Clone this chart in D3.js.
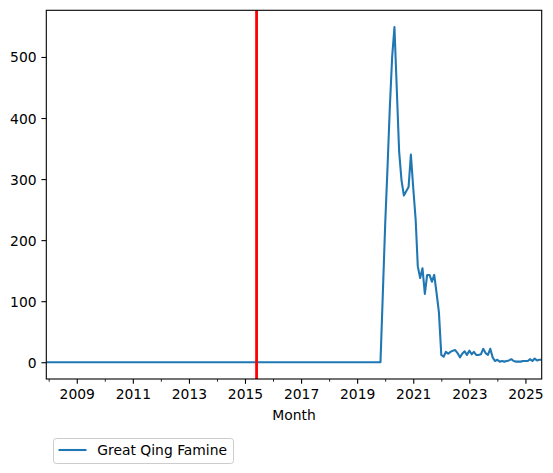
<!DOCTYPE html>
<html>
<head>
<meta charset="utf-8">
<script src="https://cdn.jsdelivr.net/npm/d3@7"></script>
<style>
  html, body { margin: 0; padding: 0; background: #fff; }
  svg { display: block; font-family: "DejaVu Sans", sans-serif; }
</style>
</head>
<body>
<svg id="chart" width="553" height="473"></svg>
<script>
// ---- data ----
const seriesName = "Great Qing Famine";
const startMonth = "2007-12";          // first month of the series
const eventMonth = "2015-06";          // red vertical marker
const xLabel = "Month";
// monthly values, 2007-12 .. 2025-08
const values = [
  0,                                     // 2007-12
  0,0,0,0,0,0,0,0,0,0,0,0,               // 2008
  0,0,0,0,0,0,0,0,0,0,0,0,               // 2009
  0,0,0,0,0,0,0,0,0,0,0,0,               // 2010
  0,0,0,0,0,0,0,0,0,0,0,0,               // 2011
  0,0,0,0,0,0,0,0,0,0,0,0,               // 2012
  0,0,0,0,0,0,0,0,0,0,0,0,               // 2013
  0,0,0,0,0,0,0,0,0,0,0,0,               // 2014
  0,0,0,0,0,0,0,0,0,0,0,0,               // 2015
  0,0,0,0,0,0,0,0,0,0,0,0,               // 2016
  0,0,0,0,0,0,0,0,0,0,0,0,               // 2017
  0,0,0,0,0,0,0,0,0,0,0,0,               // 2018
  0,0,0,0,0,0,0,0,0,0,0,110,             // 2019
  225,320,415,500,549,445,345,298,273,280,287,340,   // 2020
  285,234,157,138,154,112,143,143,132,143,113,82,    // 2021
  12,9,17,14,17,19,20,15,8,14,18,12,                 // 2022
  19,13,17,12,12,13,22,15,12,22,8,2,                 // 2023
  4,1,2,1,2,3,5,2,1,1,1,2,                           // 2024
  2,2,5,2,6,3,4,4                                    // 2025
];
const yTicks = [0, 100, 200, 300, 400, 500];
const xMajorYears = [2009, 2011, 2013, 2015, 2017, 2019, 2021, 2023, 2025];
const xMinorYears = [2008, 2010, 2012, 2014, 2016, 2018, 2020, 2022, 2024];

// ---- layout ----
const L = 46.3, R = 541.7, T = 10.3, B = 379;
const FS = 13.89;
const tickLen = 4.86, tickPad = 4.86;

const parseM = d3.utcParse("%Y-%m");
const t0 = parseM(startMonth);
const data = values.map((v, i) => ({ date: d3.utcMonth.offset(t0, i), value: v }));

const x = d3.scaleUtc()
  .domain([data[0].date, data[data.length - 1].date])
  .range([L, R]);
const maxV = d3.max(values), minV = d3.min(values);
const pad = (maxV - minV) * 0.05;
const y = d3.scaleLinear().domain([minV - pad, maxV + pad]).range([B, T]);

const svg = d3.select("#chart");
svg.append("rect").attr("width", 553).attr("height", 473).attr("fill", "#fff");

svg.append("defs").append("clipPath").attr("id", "clip")
  .append("rect").attr("x", L).attr("y", T).attr("width", R - L).attr("height", B - T);

// series line
const line = d3.line().x(d => x(d.date)).y(d => y(d.value));
svg.append("path")
  .datum(data)
  .attr("clip-path", "url(#clip)")
  .attr("fill", "none")
  .attr("stroke", "#1f77b4")
  .attr("stroke-width", 2.08)
  .attr("stroke-linejoin", "round")
  .attr("d", line);

// red vertical marker
const ex = x(parseM(eventMonth));
svg.append("line")
  .attr("x1", ex).attr("x2", ex).attr("y1", T).attr("y2", B)
  .attr("stroke", "#ff0000").attr("stroke-width", 2.78);

// y axis
const yAxis = d3.axisLeft(y).tickValues(yTicks).tickSize(tickLen).tickPadding(tickPad).tickFormat(d3.format("d"));
const gy = svg.append("g").attr("transform", `translate(${L},0)`).call(yAxis);
gy.select(".domain").remove();
gy.selectAll(".tick line").attr("stroke", "#000").attr("stroke-width", 1.1);
gy.selectAll(".tick text").attr("font-size", FS).attr("font-family", "DejaVu Sans").attr("fill", "#000").attr("dy", "0.36em");

// x axis major
const xAxis = d3.axisBottom(x)
  .tickValues(xMajorYears.map(yr => Date.UTC(yr, 0, 1)).map(t => new Date(t)))
  .tickSize(tickLen).tickPadding(tickPad)
  .tickFormat(d3.utcFormat("%Y"));
const gx = svg.append("g").attr("transform", `translate(0,${B})`).call(xAxis);
gx.select(".domain").remove();
gx.selectAll(".tick line").attr("stroke", "#000").attr("stroke-width", 1.1);
gx.selectAll(".tick text").attr("font-size", FS).attr("font-family", "DejaVu Sans").attr("fill", "#000")
  .attr("y", tickLen + tickPad).attr("dy", "0.76em");

// x axis minor
const xMinor = d3.axisBottom(x)
  .tickValues(xMinorYears.map(yr => new Date(Date.UTC(yr, 0, 1))))
  .tickSize(2.78).tickFormat("");
const gxm = svg.append("g").attr("transform", `translate(0,${B})`).call(xMinor);
gxm.select(".domain").remove();
gxm.selectAll(".tick line").attr("stroke", "#000").attr("stroke-width", 0.83);

// frame
svg.append("rect")
  .attr("x", L).attr("y", T).attr("width", R - L).attr("height", B - T)
  .attr("fill", "none").attr("stroke", "#000").attr("stroke-width", 1.1);

// x label
svg.append("text")
  .attr("x", (L + R) / 2).attr("y", 420)
  .attr("text-anchor", "middle")
  .attr("font-size", FS).attr("fill", "#000")
  .text(xLabel);

// legend
const lg = svg.append("g");
lg.append("rect")
  .attr("x", 53.5).attr("y", 438.5).attr("width", 180).attr("height", 25)
  .attr("rx", 2.8).attr("ry", 2.8)
  .attr("fill", "#fff").attr("fill-opacity", 0.8)
  .attr("stroke", "#cccccc").attr("stroke-width", 1);
lg.append("line")
  .attr("x1", 58.5).attr("x2", 86.5).attr("y1", 450).attr("y2", 450)
  .attr("stroke", "#1f77b4").attr("stroke-width", 2.08);
lg.append("text")
  .attr("x", 97.3).attr("y", 455)
  .attr("font-size", FS).attr("fill", "#000")
  .text(seriesName);
</script>
</body>
</html>
